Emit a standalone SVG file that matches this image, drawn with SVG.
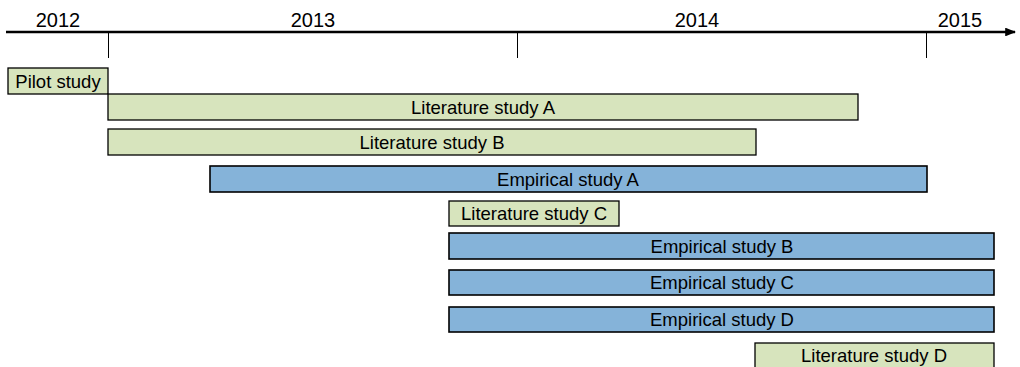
<svg xmlns="http://www.w3.org/2000/svg" width="1020" height="367" viewBox="0 0 1020 367">
<style>
.yr{font-family:"Liberation Sans",Arial,sans-serif;font-size:20px;fill:#000;text-anchor:middle}
.lbl{font-family:"Liberation Sans",Arial,sans-serif;font-size:18.5px;fill:#000;text-anchor:middle;dominant-baseline:central}
.lit{fill:#d7e4bd;stroke:#000;stroke-width:1.3}
.emp{fill:#85b3d9;stroke:#000;stroke-width:1.6}
.ax{stroke:#000;fill:none}
</style>
<defs>
<marker id="arr" viewBox="0 0 10 8" refX="9" refY="4" markerWidth="4.4" markerHeight="3.5" markerUnits="strokeWidth" orient="auto">
<path d="M0,0 L10,4 L0,8 z" fill="#000"/>
</marker>
</defs>
<g id="axis">
<line class="ax" x1="6" y1="32" x2="1015" y2="32" stroke-width="2.5" marker-end="url(#arr)"/>
<line class="ax" x1="108.5" y1="32" x2="108.5" y2="58" stroke-width="1"/>
<line class="ax" x1="517.5" y1="32" x2="517.5" y2="58" stroke-width="1"/>
<line class="ax" x1="926.5" y1="32" x2="926.5" y2="58" stroke-width="1"/>
<text class="yr" x="58" y="27">2012</text>
<text class="yr" x="313" y="27">2013</text>
<text class="yr" x="697" y="27">2014</text>
<text class="yr" x="960" y="27">2015</text>
</g>
<g id="pilot"><rect class="lit" x="8" y="68" width="100" height="26"/><text class="lbl" x="58" y="81">Pilot study</text></g>
<g id="litA"><rect class="lit" x="108" y="94" width="750" height="26"/><text class="lbl" x="483" y="107">Literature study A</text></g>
<g id="litB"><rect class="lit" x="108" y="129" width="648" height="26"/><text class="lbl" x="432" y="142">Literature study B</text></g>
<g id="empA"><rect class="emp" x="210" y="166" width="717" height="26"/><text class="lbl" x="568" y="179">Empirical study A</text></g>
<g id="litC"><rect class="lit" x="449" y="201" width="170" height="25"/><text class="lbl" x="534" y="213.5">Literature study C</text></g>
<g id="empB"><rect class="emp" x="449" y="233" width="545" height="26"/><text class="lbl" x="722" y="246">Empirical study B</text></g>
<g id="empC"><rect class="emp" x="449" y="270" width="545" height="25"/><text class="lbl" x="722" y="282.5">Empirical study C</text></g>
<g id="empD"><rect class="emp" x="449" y="307" width="545" height="25"/><text class="lbl" x="722" y="319.5">Empirical study D</text></g>
<g id="litD"><rect class="lit" x="755" y="343" width="239" height="30"/><text class="lbl" x="874" y="355">Literature study D</text></g>
<g id="connectors"></g>
</svg>
